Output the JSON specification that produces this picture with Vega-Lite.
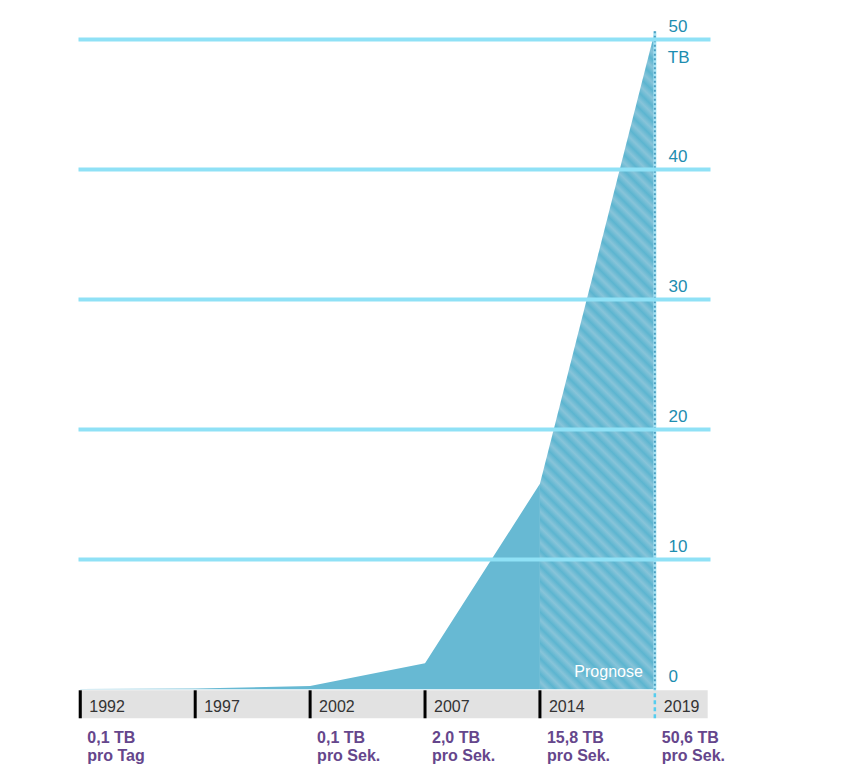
{
  "$schema": "https://vega.github.io/schema/vega-lite/v6.json",
  "width": 632,
  "height": 727,
  "autosize": {"type": "none"},
  "padding": {"left": 78, "top": 39, "right": 134, "bottom": 0},
  "background": "white",
  "config": {"view": {"stroke": null}, "font": "Liberation Sans"},
  "datasets": {
    "traffic": [
      {"year": "1992", "i": 0, "tb": 0.02, "label": "0,1 TB\npro Tag"},
      {"year": "1997", "i": 1, "tb": 0.06, "label": ""},
      {"year": "2002", "i": 2, "tb": 0.25, "label": "0,1 TB\npro Sek."},
      {"year": "2007", "i": 3, "tb": 2.0, "label": "2,0 TB\npro Sek."},
      {"year": "2014", "i": 4, "tb": 15.8, "label": "15,8 TB\npro Sek."},
      {"year": "2019", "i": 5, "tb": 50.6, "label": "50,6 TB\npro Sek."}
    ]
  },
  "data": {"name": "traffic"},
  "layer": [
    {
      "transform": [{"filter": "datum.i == 0"}],
      "mark": {"type": "rect", "color": "#e2e2e2"},
      "encoding": {
        "x": {"datum": -0.02, "type": "quantitative", "scale": {"domain": [-0.02, 5.48], "nice": false, "zero": false}, "axis": null},
        "x2": {"datum": 5.46},
        "y": {"datum": -0.08, "type": "quantitative"},
        "y2": {"datum": -2.23}
      }
    },
    {
      "transform": [{"filter": "datum.i <= 4"}],
      "mark": {"type": "area", "color": "#67b9d3", "interpolate": "linear"},
      "encoding": {
        "x": {"field": "i", "type": "quantitative", "scale": {"domain": [-0.02, 5.48], "nice": false, "zero": false}, "axis": null},
        "y": {
          "field": "tb", "type": "quantitative",
          "scale": {"domain": [-5.9, 50], "nice": false, "zero": false},
          "axis": {
            "orient": "right", "title": null, "values": [0, 10, 20, 30, 40, 50],
            "grid": true, "gridWidth": 4,
            "gridColor": {"condition": {"test": "datum.value === 0", "value": "rgba(0,0,0,0)"}, "value": "#8fe1f6"},
            "ticks": false, "tickSize": 0, "domain": false,
            "labelPadding": -42, "labelAlign": "left", "labelBaseline": "alphabetic", "labelOffset": -8,
            "labelColor": "#1d8db0", "labelFontSize": 17, "labelFont": "Liberation Sans", "labelFlush": false,
            "zindex": 1
          }
        },
        "y2": {"datum": 0}
      }
    },
    {
      "transform": [{"filter": "datum.i >= 4"}],
      "mark": {
        "type": "area", "interpolate": "linear",
        "color": {
          "gradient": "linear", "x1": 0, "y1": 1, "x2": 0.199, "y2": -0.14,
          "stops": [
            {"offset": 0, "color": "#5cb5d0"}, {"offset": 0.01, "color": "#88c4d9"}, {"offset": 0.02, "color": "#5cb5d0"}, {"offset": 0.03, "color": "#88c4d9"},
            {"offset": 0.04, "color": "#5cb5d0"}, {"offset": 0.05, "color": "#88c4d9"}, {"offset": 0.06, "color": "#5cb5d0"}, {"offset": 0.07, "color": "#88c4d9"},
            {"offset": 0.08, "color": "#5cb5d0"}, {"offset": 0.09, "color": "#88c4d9"}, {"offset": 0.1, "color": "#5cb5d0"}, {"offset": 0.11, "color": "#88c4d9"},
            {"offset": 0.12, "color": "#5cb5d0"}, {"offset": 0.13, "color": "#88c4d9"}, {"offset": 0.14, "color": "#5cb5d0"}, {"offset": 0.15, "color": "#88c4d9"},
            {"offset": 0.16, "color": "#5cb5d0"}, {"offset": 0.17, "color": "#88c4d9"}, {"offset": 0.18, "color": "#5cb5d0"}, {"offset": 0.19, "color": "#88c4d9"},
            {"offset": 0.2, "color": "#5cb5d0"}, {"offset": 0.21, "color": "#88c4d9"}, {"offset": 0.22, "color": "#5cb5d0"}, {"offset": 0.23, "color": "#88c4d9"},
            {"offset": 0.24, "color": "#5cb5d0"}, {"offset": 0.25, "color": "#88c4d9"}, {"offset": 0.26, "color": "#5cb5d0"}, {"offset": 0.27, "color": "#88c4d9"},
            {"offset": 0.28, "color": "#5cb5d0"}, {"offset": 0.29, "color": "#88c4d9"}, {"offset": 0.3, "color": "#5cb5d0"}, {"offset": 0.31, "color": "#88c4d9"},
            {"offset": 0.32, "color": "#5cb5d0"}, {"offset": 0.33, "color": "#88c4d9"}, {"offset": 0.34, "color": "#5cb5d0"}, {"offset": 0.35, "color": "#88c4d9"},
            {"offset": 0.36, "color": "#5cb5d0"}, {"offset": 0.37, "color": "#88c4d9"}, {"offset": 0.38, "color": "#5cb5d0"}, {"offset": 0.39, "color": "#88c4d9"},
            {"offset": 0.4, "color": "#5cb5d0"}, {"offset": 0.41, "color": "#88c4d9"}, {"offset": 0.42, "color": "#5cb5d0"}, {"offset": 0.43, "color": "#88c4d9"},
            {"offset": 0.44, "color": "#5cb5d0"}, {"offset": 0.45, "color": "#88c4d9"}, {"offset": 0.46, "color": "#5cb5d0"}, {"offset": 0.47, "color": "#88c4d9"},
            {"offset": 0.48, "color": "#5cb5d0"}, {"offset": 0.49, "color": "#88c4d9"}, {"offset": 0.5, "color": "#5cb5d0"}, {"offset": 0.51, "color": "#88c4d9"},
            {"offset": 0.52, "color": "#5cb5d0"}, {"offset": 0.53, "color": "#88c4d9"}, {"offset": 0.54, "color": "#5cb5d0"}, {"offset": 0.55, "color": "#88c4d9"},
            {"offset": 0.56, "color": "#5cb5d0"}, {"offset": 0.57, "color": "#88c4d9"}, {"offset": 0.58, "color": "#5cb5d0"}, {"offset": 0.59, "color": "#88c4d9"},
            {"offset": 0.6, "color": "#5cb5d0"}, {"offset": 0.61, "color": "#88c4d9"}, {"offset": 0.62, "color": "#5cb5d0"}, {"offset": 0.63, "color": "#88c4d9"},
            {"offset": 0.64, "color": "#5cb5d0"}, {"offset": 0.65, "color": "#88c4d9"}, {"offset": 0.66, "color": "#5cb5d0"}, {"offset": 0.67, "color": "#88c4d9"},
            {"offset": 0.68, "color": "#5cb5d0"}, {"offset": 0.69, "color": "#88c4d9"}, {"offset": 0.7, "color": "#5cb5d0"}, {"offset": 0.71, "color": "#88c4d9"},
            {"offset": 0.72, "color": "#5cb5d0"}, {"offset": 0.73, "color": "#88c4d9"}, {"offset": 0.74, "color": "#5cb5d0"}, {"offset": 0.75, "color": "#88c4d9"},
            {"offset": 0.76, "color": "#5cb5d0"}, {"offset": 0.77, "color": "#88c4d9"}, {"offset": 0.78, "color": "#5cb5d0"}, {"offset": 0.79, "color": "#88c4d9"},
            {"offset": 0.8, "color": "#5cb5d0"}, {"offset": 0.81, "color": "#88c4d9"}, {"offset": 0.82, "color": "#5cb5d0"}, {"offset": 0.83, "color": "#88c4d9"},
            {"offset": 0.84, "color": "#5cb5d0"}, {"offset": 0.85, "color": "#88c4d9"}, {"offset": 0.86, "color": "#5cb5d0"}, {"offset": 0.87, "color": "#88c4d9"},
            {"offset": 0.88, "color": "#5cb5d0"}, {"offset": 0.89, "color": "#88c4d9"}, {"offset": 0.9, "color": "#5cb5d0"}, {"offset": 0.91, "color": "#88c4d9"},
            {"offset": 0.92, "color": "#5cb5d0"}, {"offset": 0.93, "color": "#88c4d9"}, {"offset": 0.94, "color": "#5cb5d0"}, {"offset": 0.95, "color": "#88c4d9"},
            {"offset": 0.96, "color": "#5cb5d0"}, {"offset": 0.97, "color": "#88c4d9"}, {"offset": 0.98, "color": "#5cb5d0"}, {"offset": 0.99, "color": "#88c4d9"},
            {"offset": 1, "color": "#5cb5d0"}
          ]
        }
      },
      "encoding": {
        "x": {"field": "i", "type": "quantitative"},
        "y": {"field": "tb", "type": "quantitative"},
        "y2": {"datum": 0}
      }
    },
    {
      "transform": [{"filter": "datum.i <= 4"}],
      "mark": {"type": "rule", "color": "#000000", "strokeWidth": 3},
      "encoding": {
        "x": {"field": "i", "type": "quantitative"},
        "y": {"datum": -0.08, "type": "quantitative"},
        "y2": {"datum": -2.23}
      }
    },
    {
      "transform": [{"filter": "datum.i == 5"}],
      "mark": {"type": "rule", "color": "#55cdef", "strokeWidth": 2.5, "strokeDash": [4, 3]},
      "encoding": {
        "x": {"field": "i", "type": "quantitative"},
        "y": {"datum": -2.23, "type": "quantitative"},
        "y2": {"datum": 0}
      }
    },
    {
      "transform": [{"filter": "datum.i == 5"}],
      "mark": {"type": "rule", "color": "#a8e3f4", "strokeWidth": 3},
      "encoding": {
        "x": {"field": "i", "type": "quantitative"},
        "y": {"field": "tb", "type": "quantitative"},
        "y2": {"datum": 0}
      }
    },
    {
      "transform": [{"filter": "datum.i == 5"}],
      "mark": {"type": "rule", "color": "#4a9ec0", "strokeWidth": 2, "strokeDash": [2, 2.5]},
      "encoding": {
        "x": {"field": "i", "type": "quantitative"},
        "y": {"field": "tb", "type": "quantitative"},
        "y2": {"datum": 0}
      }
    },
    {
      "mark": {"type": "text", "align": "left", "baseline": "middle", "dx": 9, "fontSize": 16, "color": "#333333", "font": "Liberation Sans"},
      "encoding": {
        "x": {"field": "i", "type": "quantitative"},
        "y": {"datum": -1.4, "type": "quantitative"},
        "text": {"field": "year", "type": "nominal"}
      }
    },
    {
      "mark": {"type": "text", "align": "left", "baseline": "top", "dx": 7, "fontSize": 16, "fontWeight": "bold", "color": "#65468c", "lineBreak": "\n", "lineHeight": 18, "font": "Liberation Sans"},
      "encoding": {
        "x": {"field": "i", "type": "quantitative"},
        "y": {"datum": -3.1, "type": "quantitative"},
        "text": {"field": "label", "type": "nominal"}
      }
    },
    {
      "transform": [{"filter": "datum.i == 5"}],
      "mark": {"type": "text", "align": "right", "baseline": "middle", "dx": -12, "dy": -17, "fontSize": 16, "color": "#ffffff", "font": "Liberation Sans", "text": "Prognose"},
      "encoding": {
        "x": {"field": "i", "type": "quantitative"},
        "y": {"datum": 0, "type": "quantitative"}
      }
    },
    {
      "transform": [{"filter": "datum.i == 5"}],
      "mark": {"type": "text", "align": "left", "baseline": "top", "dx": 13, "dy": 11, "fontSize": 17, "color": "#1d8db0", "font": "Liberation Sans", "text": "TB"},
      "encoding": {
        "x": {"field": "i", "type": "quantitative"},
        "y": {"datum": 50, "type": "quantitative"}
      }
    }
  ]
}
